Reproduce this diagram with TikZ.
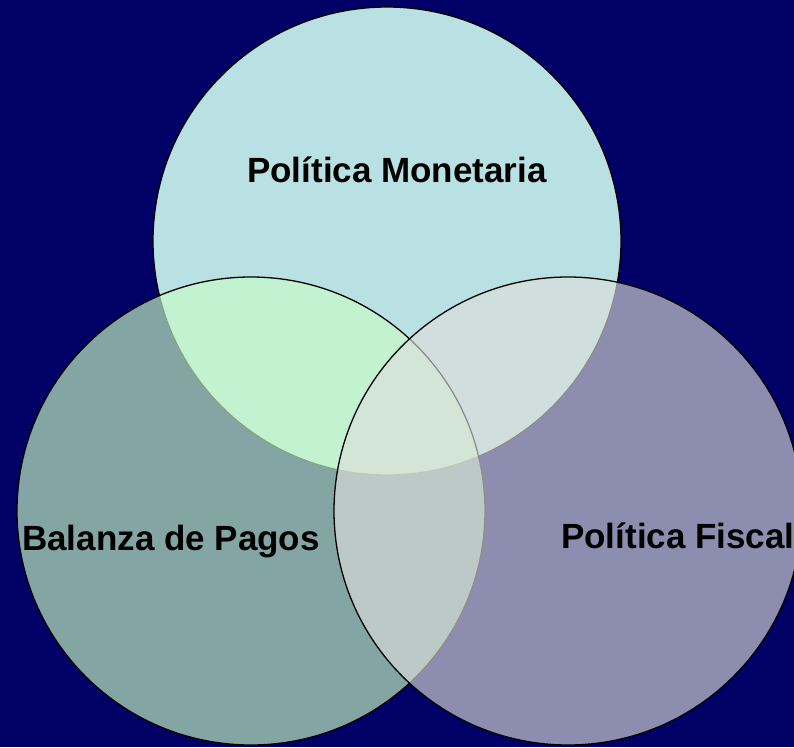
\documentclass[tikz,border=0pt]{standalone}
\usepackage{fontspec}
\setmainfont{Liberation Sans}
\definecolor{bgnavy}{RGB}{0,0,102}
\definecolor{topfill}{RGB}{185,224,227}
\definecolor{leftfill}{RGB}{200,252,198}
\definecolor{rightfill}{RGB}{222,222,219}
\tikzset{
  venn/.style={draw=black, line width=1.3pt},
  lbl/.style={anchor=base west, inner sep=0pt, text=black, font=\fontsize{35}{41}\selectfont\bfseries}
}
\begin{document}
\begin{tikzpicture}[x=1pt,y=-1pt]
\fill[bgnavy] (0,0) rectangle (794,747);
\useasboundingbox (0,0) rectangle (794,747);
\begin{scope}
\clip (0,0) rectangle (794,747);
\path[venn, fill=topfill] (387,241) circle[radius=234];
\path[venn, fill=leftfill, fill opacity=0.66] (251,511) circle[radius=234];
\path[venn, fill=rightfill, fill opacity=0.64] (568,511) circle[radius=234];
\end{scope}
\node[lbl] (mon) at (247,182) {Política Monetaria};
\node[lbl] (bal) at (22,550) {Balanza de Pagos};
\node[lbl] (fis) at (561,548) {Política Fiscal};
\end{tikzpicture}
\end{document}
